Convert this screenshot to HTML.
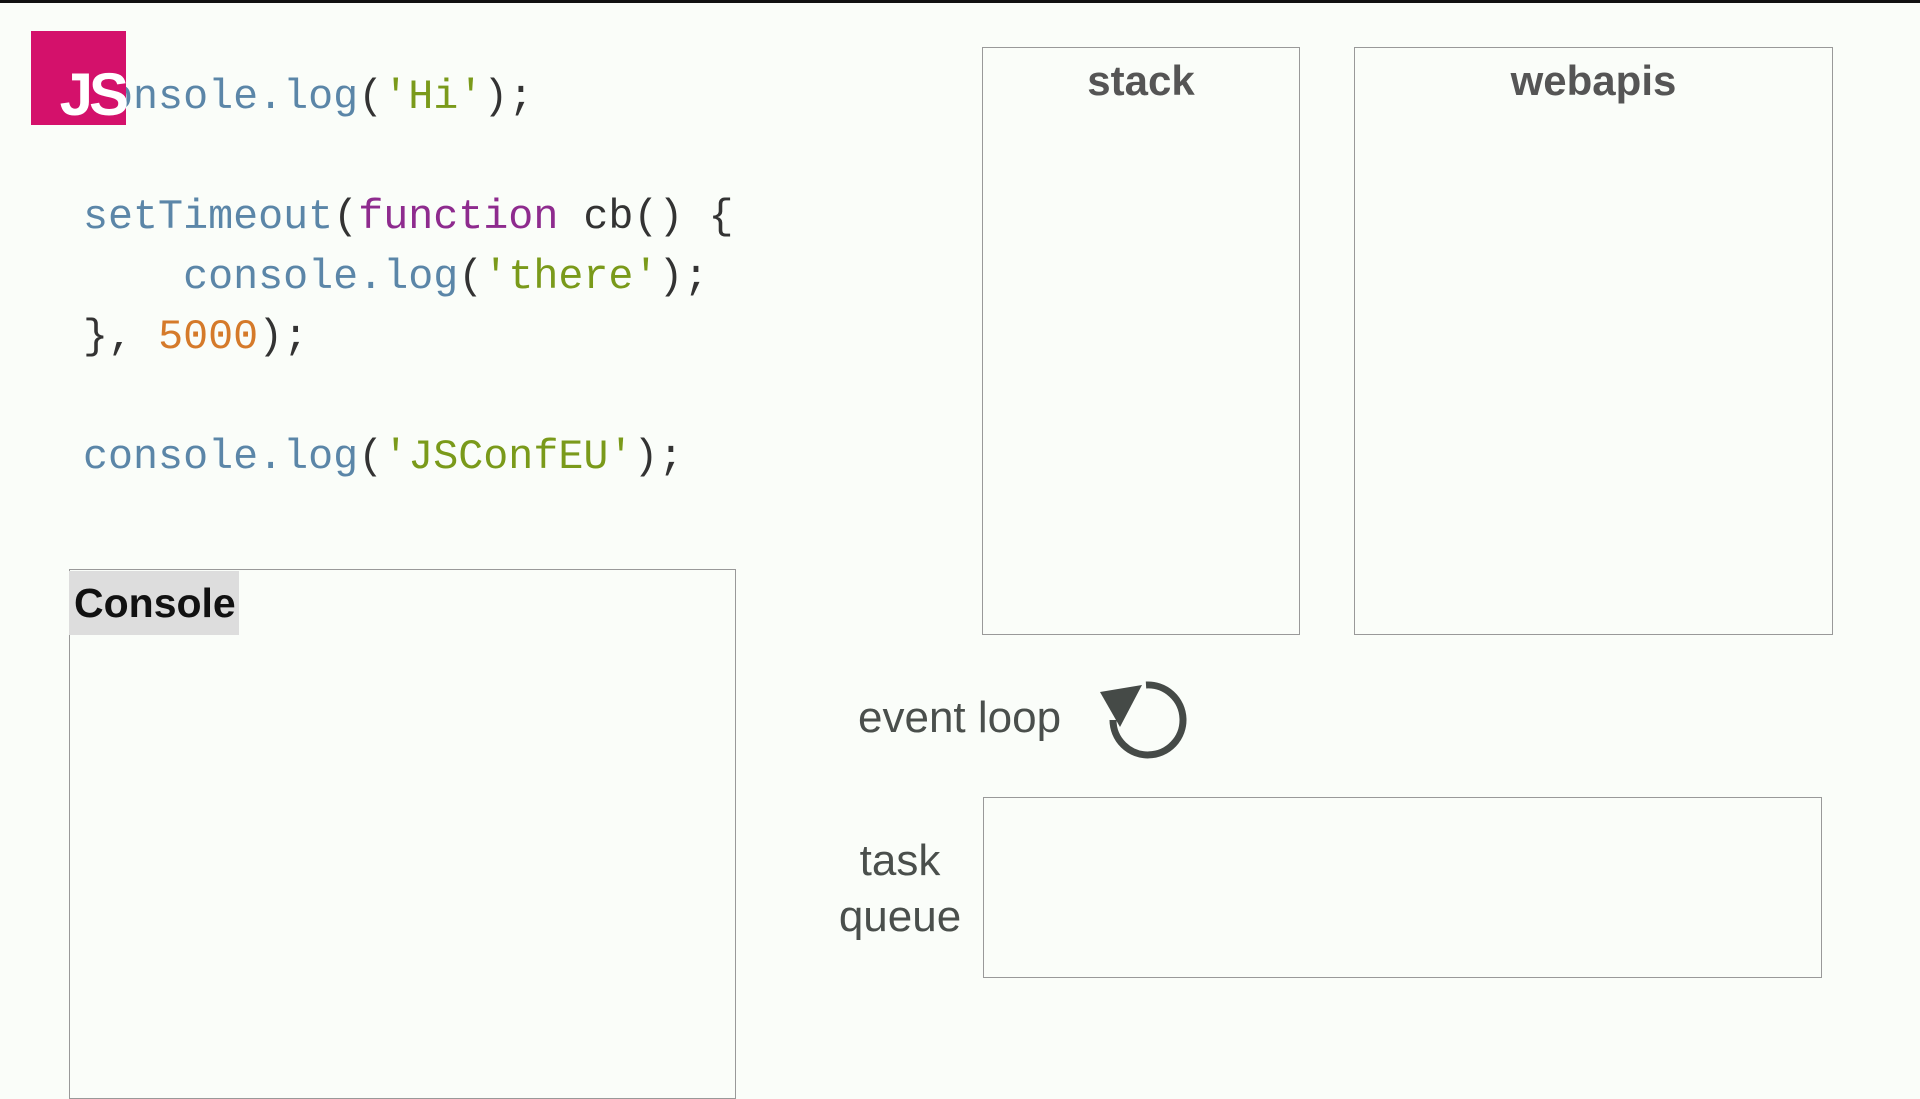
<!DOCTYPE html>
<html><head><style>
body{margin:0;width:1920px;height:1080px;background:#fafdf9;position:relative;overflow:hidden;font-family:"Liberation Sans",sans-serif}
.bar{position:absolute;left:0;top:0;width:1920px;height:3px;background:#111}
.js{position:absolute;left:31px;top:31px;width:95px;height:94px;background:#d4116b;z-index:2}
.js span{position:absolute;right:1px;bottom:-4px;color:#fff;font-weight:bold;font-size:60px;letter-spacing:-4px}
.code{position:absolute;left:83px;font-family:"Liberation Mono",monospace;font-size:41.7px;line-height:50px;white-space:pre;color:#333}
.b{color:#5b86a8}.p{color:#8e2b8e}.g{color:#7a9a1a}.o{color:#d57a2a}
.box{position:absolute;border:1.5px solid #999;box-sizing:border-box}
.t{position:absolute;color:#555;font-size:42px;font-weight:bold;text-align:center}
</style></head><body>
<div class="bar"></div>
<div class="js"><span>JS</span></div>
<div class="code" style="top:72px"><span class="b">console.log</span>(<span class="g">'Hi'</span>);</div>
<div class="code" style="top:192px"><span class="b">setTimeout</span>(<span class="p">function</span> cb() {</div>
<div class="code" style="top:252px">    <span class="b">console.log</span>(<span class="g">'there'</span>);</div>
<div class="code" style="top:312px">}, <span class="o">5000</span>);</div>
<div class="code" style="top:432px"><span class="b">console.log</span>(<span class="g">'JSConfEU'</span>);</div>

<div class="box" style="left:69px;top:569px;width:667px;height:530px"></div>
<div style="position:absolute;left:69px;top:571px;width:170px;height:64px;background:#ddd;font-size:41px;font-weight:bold;line-height:64px;text-indent:5px;color:#111">Console</div>

<div class="box" style="left:982px;top:47px;width:318px;height:588px"></div>
<div class="t" style="left:982px;top:57px;width:318px">stack</div>
<div class="box" style="left:1354px;top:47px;width:479px;height:588px"></div>
<div class="t" style="left:1354px;top:57px;width:479px">webapis</div>

<div class="t" style="left:858px;top:693px;text-align:left;font-weight:normal;color:#4a4f4c;font-size:44px">event loop</div>
<svg style="position:absolute;left:0;top:0" width="1920" height="1080">
<path d="M1146 685 A35 35 0 1 1 1113 720" fill="none" stroke="#454a47" stroke-width="7"/>
<polygon points="1100,692 1142,685 1120,727" fill="#454a47"/>
</svg>

<div class="box" style="left:983px;top:797px;width:839px;height:181px"></div>
<div class="t" style="left:820px;top:833px;width:160px;font-weight:normal;color:#4a4f4c;font-size:44px;line-height:56px">task<br>queue</div>
</body></html>
